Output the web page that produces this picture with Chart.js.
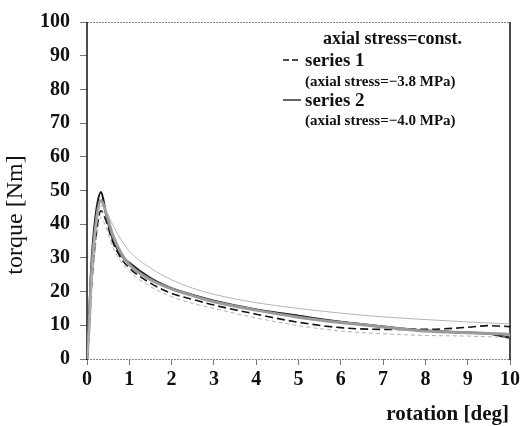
<!DOCTYPE html>
<html>
<head>
<meta charset="utf-8">
<script src="https://cdn.jsdelivr.net/npm/chart.js@4.4.0/dist/chart.umd.min.js"></script>
<style>
  html, body { margin: 0; padding: 0; background: #fff; }
  #wrap { width: 523px; height: 426px; }
</style>
</head>
<body>
<div id="wrap"><canvas id="chart" width="523" height="426"></canvas></div>
<script>
// rotation [deg] sample points shared by every curve
const rotation = [0, 0.05, 0.1, 0.2, 0.33, 0.45, 0.6, 0.8, 1, 1.5, 2, 2.5, 3, 4, 5, 6, 7, 8, 9, 9.5, 10];

// torque [Nm]
const series1 = [0, 8, 20, 35, 44, 41, 35, 30, 27, 22.5, 19.5, 17.7, 16, 13.3, 10.9, 9.3, 8.8, 8.8, 9.4, 9.9, 9.6];
const series2 = [0, 12, 27, 42, 49.5, 43, 36, 31, 28.5, 24, 21, 19, 17.3, 14.7, 12.8, 11, 9.6, 8.4, 7.8, 7.5, 6.3];
const greyMid = [0, 10, 24, 39, 47, 43.5, 37, 31.5, 28, 23.5, 20.8, 18.8, 17, 14.5, 12.4, 10.8, 9.5, 8.3, 7.8, 7.6, 7.3];
const greyUpper = [0, 9, 22, 38, 45.5, 44, 40, 35.5, 32, 27, 23.5, 21, 19.2, 16.7, 15, 13.6, 12.5, 11.7, 11, 10.7, 10.4];
const greyLower = [0, 7, 18, 33, 42, 39, 33.5, 29, 26, 21.5, 18.5, 16.5, 15, 12.2, 9.9, 8.3, 7.5, 7, 6.8, 6.6, 6.5];

const legendTitle = "axial stress=const.";
const legendNames = ["series 1", "series 2"];
const legendNotes = ["(axial stress=\u22123.8 MPa)", "(axial stress=\u22124.0 MPa)"];
const xTitle = "rotation [deg]";
const yTitle = "torque [Nm]";

const SERIF = '"Liberation Serif", "Times New Roman", serif';

const toPoints = (ys) => rotation.map((x, i) => ({x, y: ys[i]}));

const framePlugin = {
  id: "frame",
  beforeDatasetsDraw(chart) {
    const {ctx, chartArea: a} = chart;
    ctx.save();
    ctx.strokeStyle = "#8a8a8a";
    ctx.lineWidth = 1;
    ctx.setLineDash([2, 1]);
    ctx.beginPath();
    ctx.moveTo(a.left, a.top + 0.5); ctx.lineTo(a.right, a.top + 0.5);
    ctx.moveTo(a.left, a.bottom + 0.5); ctx.lineTo(a.right, a.bottom + 0.5);
    ctx.stroke();
    ctx.setLineDash([]);
    ctx.strokeStyle = "#111";
    ctx.lineWidth = 1.5;
    ctx.beginPath();
    ctx.moveTo(a.left, a.top); ctx.lineTo(a.left, a.bottom + 1);
    ctx.moveTo(a.right, a.top); ctx.lineTo(a.right, a.bottom + 1);
    ctx.stroke();
    ctx.restore();
  },
  afterDraw(chart) {
    const {ctx} = chart;
    ctx.save();
    ctx.fillStyle = "#111";
    ctx.textBaseline = "alphabetic";

    // legend
    ctx.textAlign = "left";
    ctx.font = "bold 18px " + SERIF;
    ctx.fillText(legendTitle, 323, 44);
    ctx.font = "bold 19px " + SERIF;
    ctx.fillText(legendNames[0], 305, 66);
    ctx.fillText(legendNames[1], 305, 106);
    ctx.font = "bold 15px " + SERIF;
    ctx.fillText(legendNotes[0], 305, 86);
    ctx.fillText(legendNotes[1], 305, 125);

    ctx.strokeStyle = "#111";
    ctx.lineWidth = 1.3;
    ctx.setLineDash([6, 3]);
    ctx.beginPath(); ctx.moveTo(283, 60); ctx.lineTo(299, 60); ctx.stroke();
    ctx.setLineDash([]);
    ctx.beginPath(); ctx.moveTo(283, 100); ctx.lineTo(301, 100); ctx.stroke();

    // axis titles
    ctx.font = "bold 21px " + SERIF;
    ctx.textAlign = "right";
    ctx.fillText(xTitle, 509, 420);

    ctx.translate(22, 215);
    ctx.rotate(-Math.PI / 2);
    ctx.textAlign = "center";
    ctx.font = "24px " + SERIF;
    ctx.fillText(yTitle, 0, 0);
    ctx.restore();
  }
};

const tickFont = {family: SERIF, size: 20, weight: "bold"};

new Chart(document.getElementById("chart"), {
  type: "line",
  data: {
    datasets: [
      {label: "upper", data: toPoints(greyUpper), borderColor: "#b5b5b5", borderWidth: 1},
      {label: "lower", data: toPoints(greyLower), borderColor: "#b0b0b0", borderWidth: 1, borderDash: [4, 3]},
      {label: "mid", data: toPoints(greyMid), borderColor: "#9a9a9a", borderWidth: 3},
      {label: "series 1", data: toPoints(series1), borderColor: "#151515", borderWidth: 1.6, borderDash: [8, 4]},
      {label: "series 2", data: toPoints(series2), borderColor: "#151515", borderWidth: 2.2}
    ]
  },
  options: {
    responsive: false,
    animation: false,
    layout: {padding: {left: 0, top: 19, right: 13, bottom: 0}},
    elements: {point: {radius: 0}, line: {cubicInterpolationMode: "monotone"}},
    plugins: {legend: {display: false}, tooltip: {enabled: false}},
    scales: {
      x: {
        type: "linear", min: 0, max: 10,
        ticks: {stepSize: 1, color: "#111", font: tickFont, padding: 3, maxRotation: 0},
        grid: {drawOnChartArea: false, drawTicks: true, tickLength: 6, color: "#777"},
        border: {display: false},
        afterFit(scale) { scale.height = 67; }
      },
      y: {
        min: 0, max: 100,
        ticks: {stepSize: 10, color: "#111", font: tickFont, padding: 10},
        grid: {drawOnChartArea: false, drawTicks: true, tickLength: 7, color: "#777"},
        border: {display: false},
        afterFit(scale) { scale.width = 87; }
      }
    }
  },
  plugins: [framePlugin]
});
</script>
</body>
</html>
